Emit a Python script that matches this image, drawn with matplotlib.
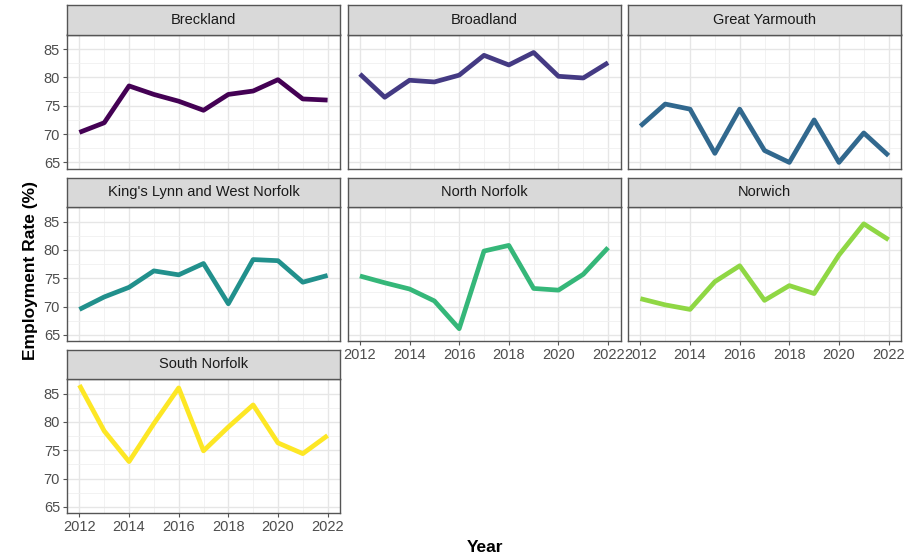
import matplotlib
matplotlib.use("Agg")
import matplotlib.pyplot as plt

plt.rcParams['font.family'] = ['Liberation Sans', 'DejaVu Sans']

years = [2012, 2013, 2014, 2015, 2016, 2017, 2018, 2019, 2020, 2021, 2022]

breckland = [70.3, 72.0, 78.5, 77.0, 75.8, 74.2, 77.0, 77.6, 79.6, 76.2, 76.0]
broadland = [80.6, 76.5, 79.5, 79.2, 80.4, 83.9, 82.2, 84.4, 80.2, 79.9, 82.6]
great_yarmouth = [71.4, 75.3, 74.4, 66.6, 74.4, 67.1, 65.0, 72.5, 65.0, 70.2, 66.2]
kings_lynn = [69.5, 71.7, 73.4, 76.3, 75.6, 77.6, 70.5, 78.3, 78.1, 74.3, 75.5]
north_norfolk = [75.4, 74.2, 73.1, 71.0, 66.1, 79.8, 80.8, 73.2, 72.9, 75.7, 80.4]
norwich = [71.4, 70.3, 69.5, 74.4, 77.2, 71.1, 73.7, 72.3, 79.1, 84.6, 81.8]
south_norfolk = [86.5, 78.4, 73.0, 79.7, 86.0, 74.9, 79.1, 83.0, 76.3, 74.4, 77.6]

districts = ["Breckland", "Broadland", "Great Yarmouth",
             "King's Lynn and West Norfolk", "North Norfolk", "Norwich",
             "South Norfolk"]
series = [breckland, broadland, great_yarmouth, kings_lynn,
          north_norfolk, norwich, south_norfolk]
colors = ["#440154", "#443A83", "#31688E", "#21908C",
          "#35B779", "#8FD744", "#FDE725"]

W, H = 917, 558
fig = plt.figure(figsize=(W / 100, H / 100), dpi=100)

col_left = [67, 347.5, 628]
row_top = [5, 177.5, 349.5]
pw = 273
sh = 29.5
ph = 134

all_vals = [v for s in series for v in s]
lo, hi = min(all_vals), max(all_vals)
pad = (hi - lo) * 0.05

for i, name in enumerate(districts):
    r, c = divmod(i, 3)
    left = col_left[c]
    top = row_top[r]
    ax = fig.add_axes([left / W, 1 - (top + sh + ph) / H, pw / W, ph / H])
    st = fig.add_axes([left / W, 1 - (top + sh) / H, pw / W, sh / H])

    st.set_facecolor("#D9D9D9")
    st.set_xticks([])
    st.set_yticks([])
    for sp in st.spines.values():
        sp.set_color("#555555")
        sp.set_linewidth(1.0)
    st.text(0.5, 0.5, name, ha="center", va="center", fontsize=10.5,
            color="#1A1A1A", transform=st.transAxes)

    ax.plot(years, series[i], color=colors[i], lw=3.4, solid_capstyle="butt",
            zorder=3)
    ax.set_xlim(2011.5, 2022.5)
    ax.set_ylim(lo - pad, hi + pad)
    ax.set_xticks([2012, 2014, 2016, 2018, 2020, 2022])
    ax.set_xticks([2013, 2015, 2017, 2019, 2021], minor=True)
    ax.set_yticks([65, 70, 75, 80, 85])
    ax.set_yticks([67.5, 72.5, 77.5, 82.5], minor=True)
    ax.grid(which="major", color="#E6E6E6", lw=1.0, zorder=0)
    ax.grid(which="minor", color="#F0F0F0", lw=0.6, zorder=0)
    ax.set_axisbelow(True)
    for sp in ax.spines.values():
        sp.set_color("#555555")
        sp.set_linewidth(1.0)
    ax.tick_params(which="minor", length=0)
    ax.tick_params(which="major", length=3, color="#555555",
                   labelsize=10.5, labelcolor="#4D4D4D", pad=2)

    if c != 0:
        ax.tick_params(axis="y", labelleft=False, length=0)
    # x labels only on the bottom panel of each column
    if not (r == 2 or (r == 1 and c > 0)):
        ax.tick_params(axis="x", labelbottom=False, length=0)

fig.text(30 / W, 1 - 270 / H, "Employment Rate (%)", rotation=90,
         ha="center", va="center", fontsize=12.5, fontweight="bold")
fig.text(485 / W, 1 - 548 / H, "Year", ha="center", va="center",
         fontsize=12.5, fontweight="bold")

fig.savefig("out.png", dpi=100)
